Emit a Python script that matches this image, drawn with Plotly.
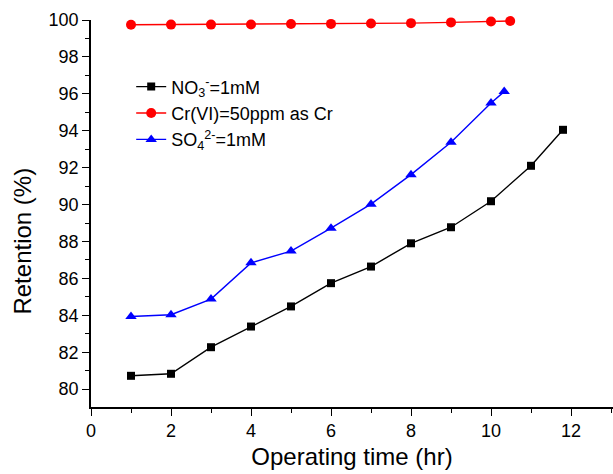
import plotly.graph_objects as go

# Data
time_no3 = [1, 2, 3, 4, 5, 6, 7, 8, 9, 10, 11, 11.8]
ret_no3 = [80.72, 80.83, 82.27, 83.39, 84.48, 85.74, 86.64, 87.9, 88.77, 90.18, 92.1, 94.05]

time_cr = [1, 2, 3, 4, 5, 6, 7, 8, 9, 10, 10.48]
ret_cr = [99.74, 99.75, 99.75, 99.76, 99.78, 99.79, 99.81, 99.83, 99.87, 99.92, 99.95]

time_so4 = [1, 2, 3, 4, 5, 6, 7, 8, 9, 10, 10.33]
ret_so4 = [83.93, 84.03, 84.88, 86.84, 87.48, 88.72, 90.02, 91.62, 93.38, 95.5, 96.12]

names = ["NO<sub>3</sub><sup>-</sup>=1mM", "Cr(VI)=50ppm as Cr", "SO<sub>4</sub><sup>2-</sup>=1mM"]

x_ticks = [0, 2, 4, 6, 8, 10, 12]
y_ticks = [80, 82, 84, 86, 88, 90, 92, 94, 96, 98, 100]

x_title = "Operating time (hr)"
y_title = "Retention (%)"

FONT = "Liberation Sans, Arial, sans-serif"

fig = go.Figure()
fig.add_trace(go.Scatter(x=time_no3, y=ret_no3, mode="lines+markers", name=names[0],
                         line=dict(color="black", width=1.4),
                         marker=dict(symbol="square", size=8, color="black"),
                         cliponaxis=False))
fig.add_trace(go.Scatter(x=time_cr, y=ret_cr, mode="lines+markers", name=names[1],
                         line=dict(color="red", width=1.4),
                         marker=dict(symbol="circle", size=10, color="red"),
                         cliponaxis=False))
fig.add_trace(go.Scatter(x=time_so4, y=ret_so4, mode="lines+markers", name=names[2],
                         line=dict(color="blue", width=1.4),
                         marker=dict(symbol="triangle-up", size=10, color="blue"),
                         cliponaxis=False))

fig.add_annotation(text=y_title, textangle=-90, xref="paper", yref="y",
                   x=-0.132, y=88.0, xanchor="center", yanchor="middle",
                   showarrow=False, font=dict(size=24, family=FONT, color="black"))

fig.update_layout(
    width=613, height=474,
    margin=dict(l=91, r=0, t=20, b=67),
    paper_bgcolor="white", plot_bgcolor="white",
    font=dict(family=FONT, color="black", size=18),
    showlegend=True,
    legend=dict(x=0.077, y=0.875, xanchor="left", yanchor="top",
                bgcolor="rgba(0,0,0,0)", font=dict(size=18, family=FONT),
                tracegroupgap=0, itemwidth=30),
    xaxis=dict(range=[0, 13.05], tickvals=x_ticks, ticktext=[str(v) for v in x_ticks],
               ticks="outside", ticklen=7, tickwidth=1.2, tickcolor="black",
               showline=True, linecolor="black", linewidth=1.5, mirror=False,
               showgrid=False, zeroline=False,
               minor=dict(ticks="outside", ticklen=4, tickwidth=1.2, tickcolor="black", dtick=1, tick0=0, showgrid=False),
               tickfont=dict(size=18, family=FONT),
               title=dict(text=x_title, font=dict(size=24, family=FONT), standoff=8)),
    yaxis=dict(range=[79.03, 100], tickvals=y_ticks, ticktext=[str(v) for v in y_ticks],
               ticks="outside", ticklen=7, tickwidth=1.2, tickcolor="black",
               showline=True, linecolor="black", linewidth=1.5, mirror=False,
               showgrid=False, zeroline=False,
               minor=dict(ticks="outside", ticklen=4, tickwidth=1.2, tickcolor="black", dtick=1, tick0=0, showgrid=False),
               tickfont=dict(size=18, family=FONT)),
)

fig.write_html("out.html", config={"displayModeBar": False},
               post_script="document.body.style.margin='0';")
